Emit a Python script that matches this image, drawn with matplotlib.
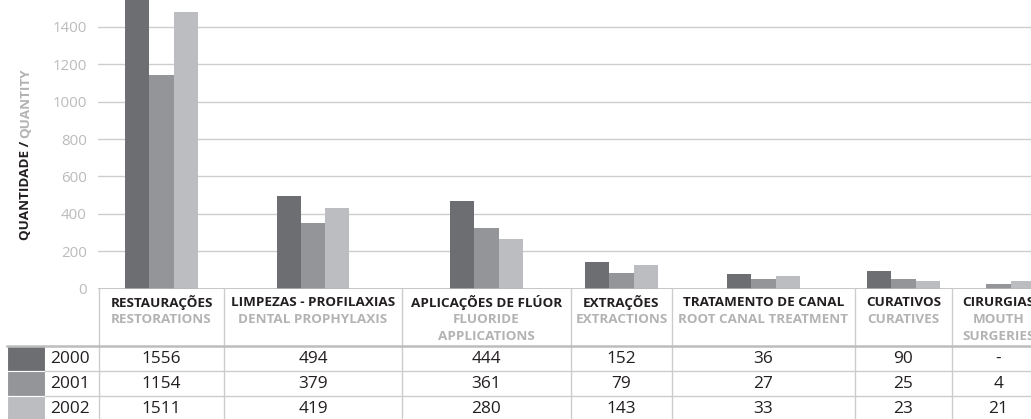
import matplotlib.pyplot as plt
from matplotlib.patches import Rectangle

# --- data -------------------------------------------------------------
years = ['2000', '2001', '2002']
cats_pt = ['RESTAURAÇÕES', 'LIMPEZAS - PROFILAXIAS', 'APLICAÇÕES DE FLÚOR',
           'EXTRAÇÕES', 'TRATAMENTO DE CANAL', 'CURATIVOS', 'CIRURGIAS']
cats_en = ['RESTORATIONS', 'DENTAL PROPHYLAXIS', 'FLUORIDE\nAPPLICATIONS',
           'EXTRACTIONS', 'ROOT CANAL TREATMENT', 'CURATIVES', 'MOUTH\nSURGERIES']

# bar heights as drawn in the chart (they differ a bit from the table)
bars_2000 = [1556, 494, 467, 141, 77, 93, 0]
bars_2001 = [1141, 349, 322, 82, 50, 50, 23]
bars_2002 = [1478, 430, 264, 125, 66, 39, 39]

# values printed in the table
table_2000 = ['1556', '494', '444', '152', '36', '90', '-']
table_2001 = ['1154', '379', '361', '79', '27', '25', '4']
table_2002 = ['1511', '419', '280', '143', '33', '23', '21']

yticks = [0, 200, 400, 600, 800, 1000, 1200, 1400]

# --- style / layout (pixels) -----------------------------------------
W, H = 1031, 419
colors = ['#6d6e71', '#939598', '#bcbdc0']
col_edges = [99, 224, 402, 571, 672, 855, 952, 1045]
base_y = 288.5          # pixel row of the zero line
px_per_unit = 0.18686   # vertical pixels per unit
bar_w = 24.3
row_lines = [346, 371, 396, 421]
head_font = ['Open Sans', 'DejaVu Sans']
num_font = ['Open Sans', 'DejaVu Sans']
head_size = 9.7
num_size = 12.4
dark = '#231f20'
light = '#b3b3b3'

fig = plt.figure(figsize=(W / 100, H / 100), dpi=100)

# overlay axes in pixel coordinates for the table
tx = fig.add_axes([0, 0, 1, 1])
tx.set_xlim(0, W)
tx.set_ylim(H, 0)
tx.axis('off')

# bar axes
left = 97.5
ax = fig.add_axes([left / W, (H - base_y) / H, 1 - left / W, base_y / H])
ax.set_xlim(left, W)
ax.set_ylim(0, base_y / px_per_unit)
for s in ax.spines.values():
    s.set_visible(False)
ax.set_axisbelow(True)
ax.yaxis.grid(True, color='#cdcdcd', lw=1.0)
ax.set_yticks(yticks)
ax.set_yticklabels([str(v) for v in yticks], family=num_font, fontsize=10.8, color='#bbbbbb')
ax.tick_params(axis='y', length=0, pad=7.6)
ax.set_xticks([])

centers = [(col_edges[i] + col_edges[i + 1]) / 2 for i in range(len(cats_pt))]
for k, series in enumerate([bars_2000, bars_2001, bars_2002]):
    xs = [c + (k - 1) * bar_w for c in centers]
    ax.bar(xs, series, width=bar_w, color=colors[k], lw=0, zorder=2)
ax.axhline(0, color='#b8b8b8', lw=1.8, zorder=3)

# y label (two colours)
tx.text(26, 240, 'QUANTIDADE /', rotation=90, ha='center', va='bottom',
        family=head_font, fontweight='bold', fontsize=head_size, color=dark)
tx.text(26, 138, 'QUANTITY', rotation=90, ha='center', va='bottom',
        family=head_font, fontweight='bold', fontsize=head_size, color=light)

# table grid
for e in col_edges:
    tx.plot([e, e], [base_y, H + 2], color='#cccccc', lw=1.0)
tx.plot([7, W], [row_lines[0], row_lines[0]], color='#bdbdbd', lw=1.8)
for y in row_lines[1:3]:
    tx.plot([45, W], [y, y], color='#cccccc', lw=1.0)

# headers
for i, c in enumerate(centers):
    tx.text(c, 302, cats_pt[i], ha='center', va='center', family=head_font,
            fontweight='bold', fontsize=head_size, color=dark)
    for j, line in enumerate(cats_en[i].split('\n')):
        tx.text(c, 319 + 17 * j, line, ha='center', va='center', family=head_font,
                fontweight='bold', fontsize=head_size, color=light)

# rows
for r, (yr, vals) in enumerate(zip(years, [table_2000, table_2001, table_2002])):
    y0, y1 = row_lines[r], row_lines[r + 1]
    tx.add_patch(Rectangle((7, y0), 38, y1 - y0, facecolor=colors[r],
                           edgecolor='white', lw=0.8))
    ym = (y0 + y1) / 2
    tx.text(50, ym, yr, ha='left', va='center', family=num_font,
            fontsize=num_size, color=dark)
    for c, v in zip(centers, vals):
        tx.text(c, ym, v, ha='center', va='center', family=num_font,
                fontsize=num_size, color=dark)

fig.savefig('out.png', dpi=100)
